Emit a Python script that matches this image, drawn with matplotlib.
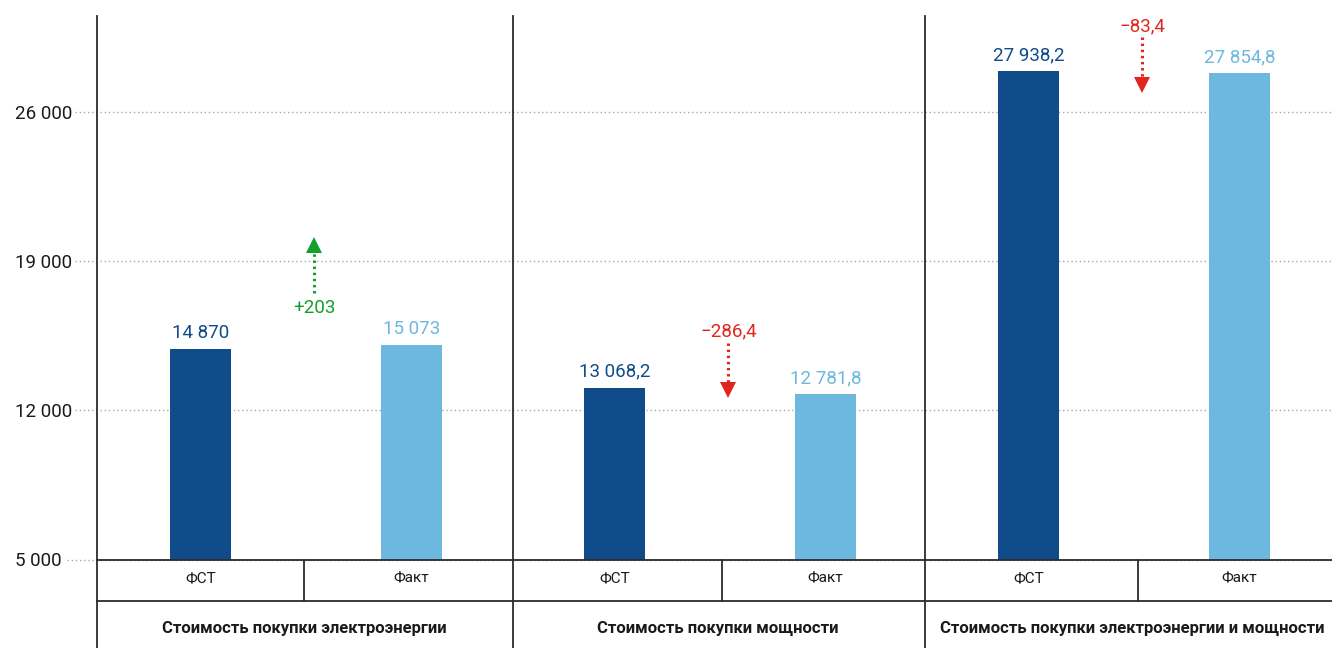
import matplotlib
matplotlib.use('Agg')
import matplotlib.pyplot as plt
from matplotlib.transforms import blended_transform_factory

plt.rcParams['font.family'] = ['Roboto', 'DejaVu Sans']

# data
groups = ['Стоимость покупки электроэнергии', 'Стоимость покупки мощности',
          'Стоимость покупки электроэнергии и мощности']
sub_labels = ['ФСТ', 'Факт']
fst = [14870, 13068.2, 27938.2]
fact = [15073, 12781.8, 27854.8]
fst_labels = ['14 870', '13 068,2', '27 938,2']
fact_labels = ['15 073', '12 781,8', '27 854,8']
diff_labels = ['+203', '−286,4', '−83,4']
yticks = [5000, 12000, 19000, 26000]
ytick_labels = ['5 000', '12 000', '19 000', '26 000']

# layout of the change arrows (y in data units)
arrow_start = [17520, 15170, 29550]
arrow_tip = [20150, 12590, 26920]
diff_text_y = [16815, 15700, 30060]

dark = '#0f4c89'
light = '#6db8de'
green = '#13a02b'
red = '#e1261d'
line_col = '#2b2b2b'

W, H = 1332, 648
fig = plt.figure(figsize=(W / 100, H / 100), dpi=100)
ax = fig.add_axes([97 / W, (H - 559.5) / H, (W - 97) / W, (559.5 - 16) / H])
xmax = (W - 97) / 207
ax.set_xlim(0, xmax)
ax.set_ylim(5000, 30530)
for s in ax.spines.values():
	s.set_visible(False)
ax.set_xticks([])
ax.set_yticks(yticks, ytick_labels)
# labels are left aligned at about x=15px
ax.tick_params(axis='y', length=0, pad=59, labelsize=13.5, labelcolor='#1a1a1a')
for lab in ax.get_yticklabels():
	lab.set_horizontalalignment('left')

# dotted grid, running a bit left of the axis
tr = blended_transform_factory(ax.transAxes, ax.transData)
for y in yticks:
	x_left = -0.024 if y == 5000 else -0.018
	ax.plot([x_left, 1], [y, y], transform=tr, color='#a8a8a8', lw=1,
			linestyle=(0, (1, 2)), clip_on=False, zorder=0)

bw = 0.295
offs = [0.5, 1.52]
for i in range(len(groups)):
	x0 = 2 * i
	ax.bar(x0 + offs[0], fst[i], width=bw, color=dark, zorder=2)
	ax.bar(x0 + offs[1], fact[i], width=bw, color=light, zorder=2)
	ax.annotate(fst_labels[i], (x0 + offs[0], fst[i]), xytext=(0, 5), textcoords='offset points',
				ha='center', va='bottom', fontsize=13.5, color=dark)
	ax.annotate(fact_labels[i], (x0 + offs[1], fact[i]), xytext=(0, 5), textcoords='offset points',
				ha='center', va='bottom', fontsize=13.5, color=light)

	# change arrow
	col = green if diff_labels[i].startswith('+') else red
	xa = x0 + 1.05
	sgn = 1 if arrow_tip[i] > arrow_start[i] else -1
	head = 750
	ax.plot([xa, xa], [arrow_start[i], arrow_tip[i] - sgn * head], color=col, lw=2.2,
			linestyle=(0, (0.8, 1.2)), zorder=3)
	ax.plot(xa, arrow_tip[i] - sgn * head / 2, marker='^' if sgn > 0 else 'v', markersize=11,
			color=col, markeredgewidth=0, zorder=3)
	ax.text(xa, diff_text_y[i], diff_labels[i], ha='center', va='center', fontsize=13.5, color=col)

# category table below the plot
xt = ax.get_xaxis_transform()
row = -41.5 / 543.5
for x in [0, 2.01, 4]:
	ax.plot([x, x], [1, -0.2], transform=xt, color=line_col, lw=1.3, clip_on=False)
for x in [1, 3.02, 5.03]:
	ax.plot([x, x], [0, row], transform=xt, color=line_col, lw=1.3, clip_on=False)
for y in [0, row]:
	ax.plot([0, xmax + 0.1], [y, y], transform=xt, color=line_col, lw=1.3, clip_on=False)

for i, g in enumerate(groups):
	x0 = 2 * i
	for j, s in enumerate(sub_labels):
		ax.text(x0 + offs[j], -18.5 / 543.5, s, transform=xt, ha='center', va='center',
				fontsize=11, color='#1a1a1a')
	ax.text(x0 + 1, -68.5 / 543.5, g, transform=xt, ha='center', va='center',
			fontsize=12, fontweight='bold', color='#1a1a1a')

fig.savefig('out.png', dpi=100)
